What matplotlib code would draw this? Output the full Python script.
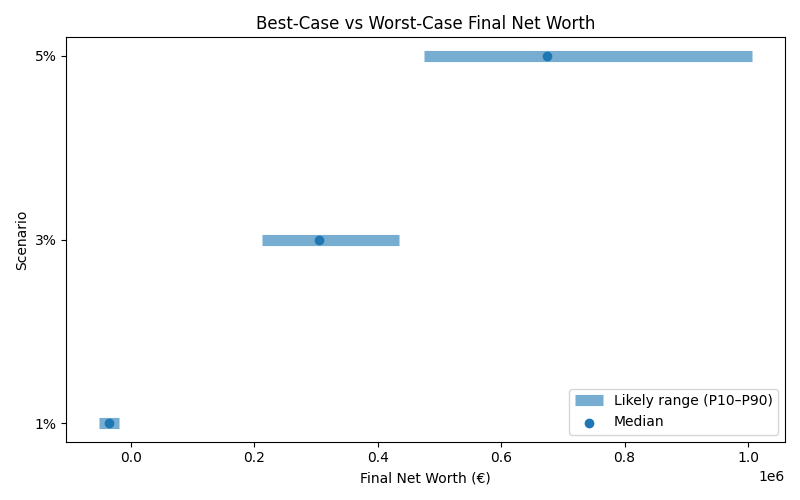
import matplotlib.pyplot as plt

scenarios = ["1%", "3%", "5%"]
p10 = [-52000, 212000, 475000]
p90 = [-20000, 435000, 1007000]
median = [-35000, 305000, 675000]

fig, ax = plt.subplots(figsize=(8, 5), dpi=100)
ypos = list(range(len(scenarios)))
ax.hlines(ypos, p10, p90, linewidth=8, alpha=0.6, label="Likely range (P10–P90)")
ax.scatter(median, ypos, zorder=3, label="Median")
ax.set_yticks(ypos)
ax.set_yticklabels(scenarios)
ax.set_xlabel("Final Net Worth (€)")
ax.set_ylabel("Scenario")
ax.set_title("Best-Case vs Worst-Case Final Net Worth")
ax.legend(loc="lower right")
fig.tight_layout()
fig.savefig("out.png")
